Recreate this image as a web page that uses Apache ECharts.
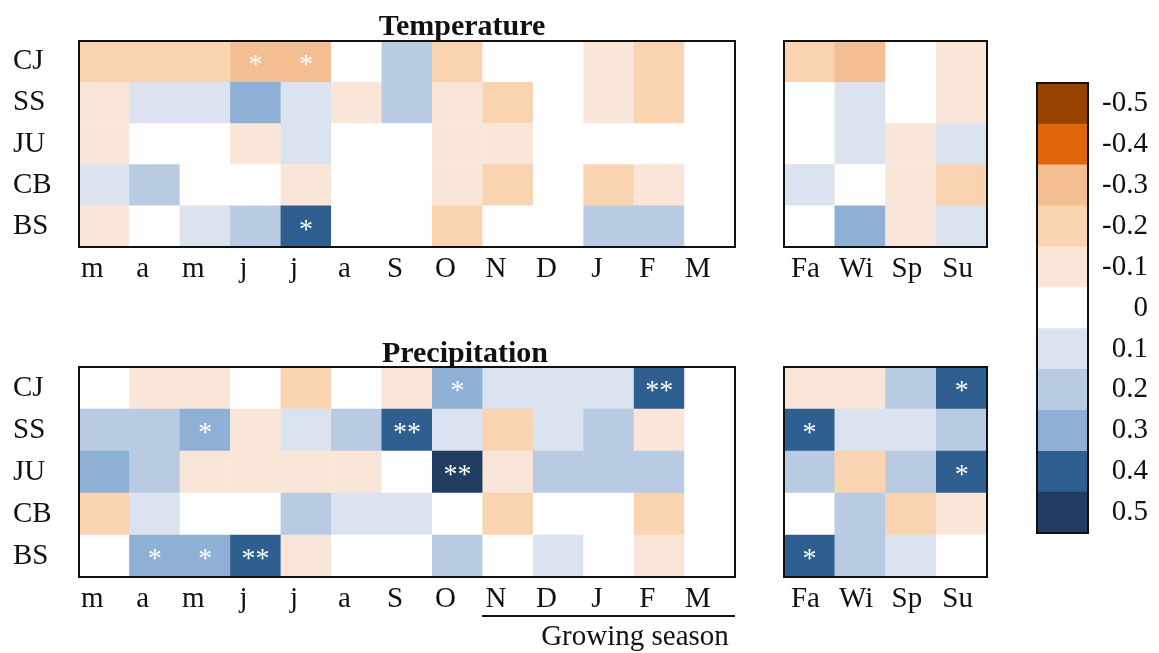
<!DOCTYPE html>
<html>
<head>
<meta charset="utf-8">
<title>Temperature / Precipitation correlations</title>
<script src="https://cdn.jsdelivr.net/npm/echarts@6/dist/echarts.min.js"></script>
<style>
    html, body { margin: 0; padding: 0; background: #fff; }
    #container { width: 1159px; height: 653px; }
</style>
</head>
<body>
<div id="container"></div>
<script>
    // 站点 / 月份 / 季节
    const sites = ['CJ', 'SS', 'JU', 'CB', 'BS'];
    const months = ['m', 'a', 'm', 'j', 'j', 'a', 'S', 'O', 'N', 'D', 'J', 'F', 'M'];
    const seasons = ['Fa', 'Wi', 'Sp', 'Su'];
    const levels = [-0.5, -0.4, -0.3, -0.2, -0.1, 0, 0.1, 0.2, 0.3, 0.4, 0.5];
    const levelLabels = ['-0.5', '-0.4', '-0.3', '-0.2', '-0.1', '0', '0.1', '0.2', '0.3', '0.4', '0.5'];
    const levelColors = ['#984300', '#e0660b', '#f3be91', '#fad4b0', '#fae6d9', '#ffffff',
        '#dae3ef', '#b8cbe3', '#8fb0d5', '#2e5f90', '#213d62'];

    // 温度 (月)
    const tempMonthly = [
        [-0.2, -0.2, -0.2, -0.3, -0.3, 0, 0.2, -0.2, 0, 0, -0.1, -0.2, 0],
        [-0.1, 0.1, 0.1, 0.3, 0.1, -0.1, 0.2, -0.1, -0.2, 0, -0.1, -0.2, 0],
        [-0.1, 0, 0, -0.1, 0.1, 0, 0, -0.1, -0.1, 0, 0, 0, 0],
        [0.1, 0.2, 0, 0, -0.1, 0, 0, -0.1, -0.2, 0, -0.2, -0.1, 0],
        [-0.1, 0, 0.1, 0.2, 0.4, 0, 0, -0.2, 0, 0, 0.2, 0.2, 0]
    ];
    const tempMonthlySig = [
        ['', '', '', '*', '*', '', '', '', '', '', '', '', ''],
        ['', '', '', '', '', '', '', '', '', '', '', '', ''],
        ['', '', '', '', '', '', '', '', '', '', '', '', ''],
        ['', '', '', '', '', '', '', '', '', '', '', '', ''],
        ['', '', '', '', '*', '', '', '', '', '', '', '', '']
    ];
    // 温度 (季)
    const tempSeasonal = [
        [-0.2, -0.3, 0, -0.1],
        [0, 0.1, 0, -0.1],
        [0, 0.1, -0.1, 0.1],
        [0.1, 0, -0.1, -0.2],
        [0, 0.3, -0.1, 0.1]
    ];
    const tempSeasonalSig = [
        ['', '', '', ''], ['', '', '', ''], ['', '', '', ''], ['', '', '', ''], ['', '', '', '']
    ];

    // 降水 (月)
    const precMonthly = [
        [0, -0.1, -0.1, 0, -0.2, 0, -0.1, 0.3, 0.1, 0.1, 0.1, 0.4, 0],
        [0.2, 0.2, 0.3, -0.1, 0.1, 0.2, 0.4, 0.1, -0.2, 0.1, 0.2, -0.1, 0],
        [0.3, 0.2, -0.1, -0.1, -0.1, -0.1, 0, 0.5, -0.1, 0.2, 0.2, 0.2, 0],
        [-0.2, 0.1, 0, 0, 0.2, 0.1, 0.1, 0, -0.2, 0, 0, -0.2, 0],
        [0, 0.3, 0.3, 0.4, -0.1, 0, 0, 0.2, 0, 0.1, 0, -0.1, 0]
    ];
    const precMonthlySig = [
        ['', '', '', '', '', '', '', '*', '', '', '', '**', ''],
        ['', '', '*', '', '', '', '**', '', '', '', '', '', ''],
        ['', '', '', '', '', '', '', '**', '', '', '', '', ''],
        ['', '', '', '', '', '', '', '', '', '', '', '', ''],
        ['', '*', '*', '**', '', '', '', '', '', '', '', '', '']
    ];
    // 降水 (季)
    const precSeasonal = [
        [-0.1, -0.1, 0.2, 0.4],
        [0.4, 0.1, 0.1, 0.2],
        [0.2, -0.2, 0.2, 0.4],
        [0, 0.2, -0.2, -0.1],
        [0.4, 0.2, 0.1, 0]
    ];
    const precSeasonalSig = [
        ['', '', '', '*'], ['*', '', '', ''], ['', '', '', '*'], ['', '', '', ''], ['*', '', '', '']
    ];

    const FONT = '"Liberation Serif", "Times New Roman", serif';

    // 矩阵 -> [x, y, value]
    function toCells(values) {
        let out = [];
        values.forEach(function (row, r) {
            row.forEach(function (v, c) {
                out.push([c, r, v]);
            });
        });
        return out;
    }

    function makeGrid(left, top, width, height) {
        return {
            left: left, top: top, width: width, height: height,
            show: true, z: 5,
            backgroundColor: 'transparent',
            borderColor: '#111', borderWidth: 2
        };
    }

    function makeXAxis(idx, cats, shift) {
        return {
            type: 'category', gridIndex: idx, data: cats, position: 'bottom',
            axisLine: { show: false }, axisTick: { show: false }, splitLine: { show: false },
            axisLabel: {
                color: '#111', fontFamily: FONT, fontSize: 29, margin: 8,
                padding: [0, shift, 0, 0]
            }
        };
    }

    function makeYAxis(idx, showLabels) {
        return {
            type: 'category', gridIndex: idx, data: sites, inverse: true,
            axisLine: { show: false }, axisTick: { show: false }, splitLine: { show: false },
            axisLabel: {
                show: showLabels, color: '#111', fontFamily: FONT, fontSize: 29,
                align: 'left', margin: 66, padding: [4, 0, 0, 0]
            }
        };
    }

    function makeSeries(idx, values, sig) {
        return {
            type: 'heatmap', xAxisIndex: idx, yAxisIndex: idx,
            data: toCells(values),
            itemStyle: { borderWidth: 0 },
            label: {
                show: true, color: '#fff', fontFamily: FONT, fontSize: 28, offset: [0, 4],
                formatter: function (p) {
                    return sig[p.data[1]][p.data[0]];
                }
            },
            emphasis: { disabled: true }
        };
    }

    let pieces = levels.map(function (lv, i) {
        return { gt: lv - 0.05, lte: lv + 0.05, color: levelColors[i] };
    });

    let legendCells = levels.map(function (lv, i) { return [0, i, lv]; });

    let option = {
        backgroundColor: '#fff',
        animation: false,
        title: [{
            text: 'Temperature', left: 457, top: 7, textAlign: 'center',
            textStyle: { fontFamily: FONT, fontSize: 30, fontWeight: 'bold', color: '#111' }
        }, {
            text: 'Precipitation', left: 460, top: 334, textAlign: 'center',
            textStyle: { fontFamily: FONT, fontSize: 30, fontWeight: 'bold', color: '#111' }
        }, {
            text: 'Growing season', left: 630, top: 618, textAlign: 'center',
            textStyle: { fontFamily: FONT, fontSize: 29, fontWeight: 'normal', color: '#111' }
        }],
        visualMap: {
            type: 'piecewise', show: false, dimension: 2,
            seriesIndex: [0, 1, 2, 3, 4],
            pieces: pieces
        },
        grid: [
            makeGrid(79, 41, 656, 206),
            makeGrid(784, 41, 203, 206),
            makeGrid(79, 367, 656, 210),
            makeGrid(784, 367, 203, 210),
            makeGrid(1037, 83, 51, 450)
        ],
        xAxis: [
            makeXAxis(0, months, 24),
            makeXAxis(1, seasons, 8),
            makeXAxis(2, months, 24),
            makeXAxis(3, seasons, 8),
            { type: 'category', gridIndex: 4, data: ['c'], show: false }
        ],
        yAxis: [
            makeYAxis(0, true),
            makeYAxis(1, false),
            makeYAxis(2, true),
            makeYAxis(3, false),
            {
                type: 'category', gridIndex: 4, data: levelLabels, inverse: true, position: 'right',
                axisLine: { show: false }, axisTick: { show: false }, splitLine: { show: false },
                axisLabel: { color: '#111', fontFamily: FONT, fontSize: 29, margin: 60, align: 'right' }
            }
        ],
        series: [
            makeSeries(0, tempMonthly, tempMonthlySig),
            makeSeries(1, tempSeasonal, tempSeasonalSig),
            makeSeries(2, precMonthly, precMonthlySig),
            makeSeries(3, precSeasonal, precSeasonalSig),
            {
                type: 'heatmap', xAxisIndex: 4, yAxisIndex: 4,
                data: legendCells, label: { show: false },
                emphasis: { disabled: true }
            }
        ],
        graphic: [{
            // 生长季下划线
            type: 'line', z: 10,
            shape: { x1: 482, y1: 616, x2: 735, y2: 616 },
            style: { stroke: '#111', lineWidth: 2 }
        }]
    };

    let myChart = echarts.init(document.getElementById('container'), null, { renderer: 'canvas' });
    myChart.setOption(option);
</script>
</body>
</html>
